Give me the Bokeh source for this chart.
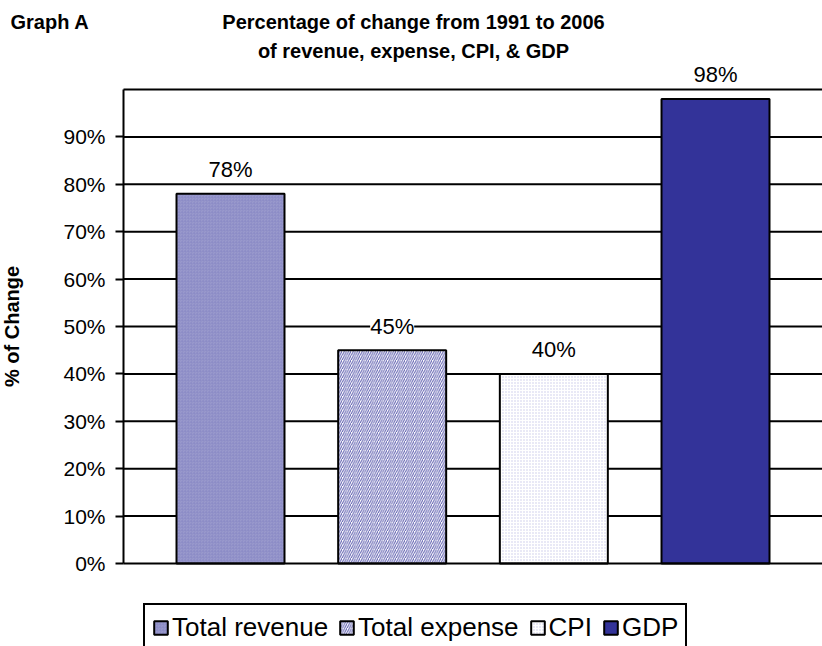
import math
from bokeh.plotting import figure
from bokeh.models import (ColumnDataSource, Range1d, FixedTicker, PrintfTickFormatter,
                          LabelSet, Label, Legend, LegendItem)
from bokeh.core.properties import value
from bokeh.embed import file_html
from bokeh.resources import INLINE

# ---- data ----
categories = ["Total revenue", "Total expense", "CPI", "GDP"]
pct_change = [78, 45, 40, 98]
value_labels = ["78%", "45%", "40%", "98%"]
y_ticks = [0, 10, 20, 30, 40, 50, 60, 70, 80, 90]
grid_levels = [10, 20, 30, 40, 50, 60, 70, 80, 90, 100]
title_line1 = "Percentage of change from 1991 to 2006"
title_line2 = "of revenue, expense, CPI, & GDP"
graph_tag = "Graph A"
y_title = "% of Change"

FONT = "Liberation Sans"
xs = [1, 2, 3, 4]

# frame covers the whole canvas; ranges chosen so that the plot box sits at
# x 123..822, y 89..563 px
X0, X1 = -0.4227, 4.6618
Y0, Y1 = -17.511, 118.776
AXIS_X = 0.3381

p = figure(width=822, height=646, output_backend="svg", toolbar_location=None,
           x_range=Range1d(X0, X1), y_range=Range1d(Y0, Y1),
           min_border_left=0, min_border_right=0, min_border_top=0, min_border_bottom=0)
p.outline_line_color = None
p.background_fill_color = "white"
p.border_fill_color = "white"
p.xgrid.grid_line_color = None
p.ygrid.grid_line_color = None

# y axis at fixed location
yax = p.yaxis[0]
yax.fixed_location = AXIS_X
yax.bounds = (0, 100)
yax.ticker = FixedTicker(ticks=y_ticks)
yax.formatter = PrintfTickFormatter(format="%d%%")
yax.axis_line_color = "black"
yax.axis_line_width = 2
yax.major_tick_line_color = "black"
yax.major_tick_line_width = 2
yax.major_tick_out = 8
yax.major_tick_in = 0
yax.minor_tick_line_color = None
yax.major_label_standoff = 10
yax.major_label_text_font = FONT
yax.major_label_text_font_size = "21px"
yax.major_label_text_color = "black"

# x axis: line only, at y = 0
xax = p.xaxis[0]
xax.fixed_location = 0
xax.bounds = (AXIS_X, X1)
xax.ticker = FixedTicker(ticks=[])
xax.axis_line_color = "black"
xax.axis_line_width = 2
xax.major_tick_line_color = None
xax.minor_tick_line_color = None
xax.major_label_text_font_size = "0px"

# horizontal grid lines from the y axis to the right edge
p.segment(x0=[AXIS_X] * len(grid_levels), x1=[X1] * len(grid_levels),
          y0=grid_levels, y1=grid_levels, line_color="black", line_width=2, level="underlay")

W = 0.668
styles = [
    dict(fill_color="#9999cc", hatch_pattern="criss_cross", hatch_color="#8a8ac4", hatch_scale=3, hatch_weight=0.5),
    dict(fill_color="white", hatch_pattern="/", hatch_color="#5c5cae", hatch_scale=4.5, hatch_weight=1),
    dict(fill_color="white", hatch_pattern="dot", hatch_color="#c8c8e8", hatch_scale=3, hatch_weight=1),
    dict(fill_color="#333399"),
]
items = []
for i in range(4):
    s = ColumnDataSource(dict(x=[xs[i]], top=[pct_change[i]]))
    r = p.vbar(x="x", top="top", bottom=0, width=W, source=s, line_color="black", line_width=2, **styles[i])
    items.append(LegendItem(label=categories[i], renderers=[r]))

src = ColumnDataSource(dict(x=xs, top=pct_change, lab=value_labels))
labels = LabelSet(x="x", y="top", text="lab", source=src, y_offset=24,
                  text_align="center", text_baseline="middle",
                  text_font=value(FONT), text_font_size=value("22px"), text_color="black",
                  background_fill_color="white")
p.add_layout(labels)

legend = Legend(items=items, orientation="horizontal", location=(143, -6),
                glyph_width=17, glyph_height=17, label_standoff=3, spacing=10, padding=7,
                label_text_font=FONT, label_text_font_size="26px", label_text_color="black",
                border_line_color="black", border_line_width=2, border_line_alpha=1,
                background_fill_color="white", background_fill_alpha=1)
p.add_layout(legend, "center")

# titles (screen units measured from the canvas' bottom-left)
p.add_layout(Label(x=413, y=625, x_units="screen", y_units="screen", text=title_line1,
                   text_align="center", text_baseline="middle", text_font=FONT,
                   text_font_size="20px", text_font_style="bold", text_color="black"))
p.add_layout(Label(x=413, y=596, x_units="screen", y_units="screen", text=title_line2,
                   text_align="center", text_baseline="middle", text_font=FONT,
                   text_font_size="20px", text_font_style="bold", text_color="black"))
p.add_layout(Label(x=10, y=625, x_units="screen", y_units="screen", text=graph_tag,
                   text_align="left", text_baseline="middle", text_font=FONT,
                   text_font_size="20px", text_font_style="bold", text_color="black"))
p.add_layout(Label(x=11, y=320, x_units="screen", y_units="screen", text=y_title,
                   angle=math.pi / 2, text_align="center", text_baseline="middle", text_font=FONT,
                   text_font_size="20px", text_font_style="bold", text_color="black"))

open("out.html", "w").write(file_html(p, INLINE))
